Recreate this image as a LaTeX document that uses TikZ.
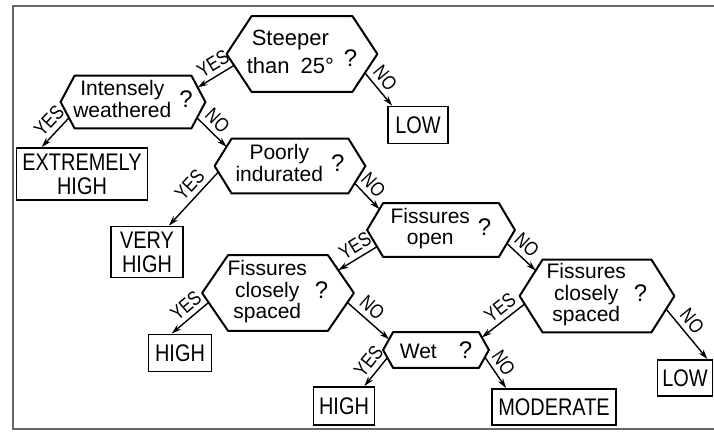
\documentclass[tikz,border=0pt]{standalone}
\usepackage{fontspec}
\setmainfont{Liberation Sans}
\newfontfamily\capsfont{Liberation Sans}[FakeStretch=0.83]
\usepackage{tikz}
\usetikzlibrary{positioning,arrows.meta,calc}

\newcommand{\qtext}[2][4pt]{\begin{tabular}{@{}c@{}}#2\end{tabular}\hspace{#1}{\large ?}}

\begin{document}
\begin{tikzpicture}[
    on grid,
    >={Stealth[length=5pt,width=3pt]},
    qbox/.style={rectangle, inner sep=0pt, font=\fontsize{10.5}{10.5}\selectfont},
    endbox/.style={rectangle, draw, line width=0.9pt, inner sep=0pt, align=center, font=\capsfont\fontsize{12}{12}\selectfont},
    hexline/.style={line width=1pt, line join=round},
    arrow/.style={->, line width=0.7pt},
    answer/.style={sloped, above=1.8pt, pos=0.4, inner sep=0.5pt, font=\capsfont\fontsize{10}{10}\selectfont},
    frameline/.style={line width=0.7pt, draw=black!60}
]
\useasboundingbox (0,0) rectangle (357pt,-216pt);

% Frame
\draw[frameline] (357pt,-3pt) -- (6.5pt,-3pt) -- (6.5pt,-214.5pt) -- (357pt,-214.5pt);

% Questions and outcomes
\node[qbox, minimum width=75pt, minimum height=37.5pt, font=\fontsize{11}{14}\selectfont] (steep) at (151pt,-27pt) {\begin{tabular}{@{}c@{}}Steeper\\than\enspace25°\end{tabular}\hspace{5pt}\raisebox{-3.5pt}{\large ?}};
\node[qbox, minimum width=72pt, minimum height=26pt, below left=24pt and 84.5pt of steep] (weath) {\qtext{Intensely\\weathered}};
\node[endbox, minimum width=30pt, minimum height=18.5pt, below right=35.5pt and 58pt of steep] (lowA) {LOW};
\node[endbox, minimum width=65.5pt, minimum height=26pt, below left=36pt and 25.5pt of weath] (extreme) {EXTREMELY\\HIGH};
\node[qbox, minimum width=75pt, minimum height=27pt, below right=32pt and 78.5pt of weath] (indur) {\qtext{Poorly\\indurated}};
\node[endbox, minimum width=36pt, minimum height=25.5pt, below left=43pt and 71.5pt of indur] (veryhigh) {VERY\\HIGH};
\node[qbox, minimum width=73.5pt, minimum height=26.5pt, below right=32pt and 75.5pt of indur] (open) {\qtext{Fissures\\open}};
\node[qbox, minimum width=75.5pt, minimum height=37.5pt, below left=31.5pt and 81.5pt of open] (spaceL) {\qtext{Fissures\\closely\\spaced}};
\node[qbox, minimum width=77pt, minimum height=36pt, below right=33pt and 78pt of open] (spaceR) {\qtext{Fissures\\closely\\spaced}};
\node[endbox, minimum width=31.5pt, minimum height=18.5pt, below left=30pt and 49pt of spaceL] (highL) {HIGH};
\node[qbox, minimum width=52.5pt, minimum height=17.5pt, below right=28.5pt and 79pt of spaceL] (wet) {Wet\hspace{11pt}{\large ?}};
\node[endbox, minimum width=27.5pt, minimum height=18pt, below right=41pt and 44pt of spaceR] (lowB) {LOW};
\node[endbox, minimum width=30.5pt, minimum height=19pt, below left=28pt and 46pt of wet] (highB) {HIGH};
\node[endbox, minimum width=62pt, minimum height=18pt, below right=28.5pt and 59pt of wet] (moderate) {MODERATE};

% Hexagon outlines
\foreach \n/\s in {steep/12.5pt, weath/7pt, indur/8.5pt, open/8pt, spaceL/13pt, spaceR/11.5pt, wet/5pt}{
  \coordinate (\n-nw) at ([xshift=\s]\n.north west);
  \coordinate (\n-ne) at ([xshift=-\s]\n.north east);
  \coordinate (\n-se) at ([xshift=-\s]\n.south east);
  \coordinate (\n-sw) at ([xshift=\s]\n.south west);
  \draw[hexline] (\n.west) -- (\n-nw) -- (\n-ne) -- (\n.east) -- (\n-se) -- (\n-sw) -- cycle;
}

% Arrows
\draw[arrow] ($(steep.west)!.3!(steep-sw)$) -- node[answer]{YES} ($(weath.east)!.55!(weath-ne)$);
\draw[arrow] ($(steep.east)!.5!(steep-se)$) -- node[answer]{NO} ([xshift=2.5pt]lowA.north west);
\draw[arrow] ($(weath.west)!.6!(weath-sw)$) -- node[answer]{YES} ([xshift=13pt]extreme.north west);
\draw[arrow] ($(weath.east)!.6!(weath-se)$) -- node[answer]{NO} ($(indur.west)!.7!(indur-nw)$);
\draw[arrow] ($(indur.west)!.22!(indur-sw)$) -- node[answer]{YES} ([xshift=-7.5pt]veryhigh.north east);
\draw[arrow] ($(indur.east)!.63!(indur-se)$) -- node[answer]{NO} ($(open.west)!.77!(open-nw)$);
\draw[arrow] ($(open.west)!.62!(open-sw)$) -- node[answer]{YES} ($(spaceL.east)!.6!(spaceL-ne)$);
\draw[arrow] ($(open.east)!.5!(open-se)$) -- node[answer]{NO} ($(spaceR.west)!.7!(spaceR-nw)$);
\draw[arrow] ($(spaceL.west)!.25!(spaceL-sw)$) -- node[answer]{YES} ([xshift=12pt]highL.north west);
\draw[arrow] ($(spaceL.east)!.25!(spaceL-se)$) -- node[answer]{NO} ($(wet.west)!.6!(wet-nw)$);
\draw[arrow] ($(spaceR.west)!.22!(spaceR-sw)$) -- node[answer]{YES} ($(wet.east)!.7!(wet-ne)$);
\draw[arrow] ($(spaceR.east)!.36!(spaceR-se)$) -- node[answer]{NO} ([xshift=-3pt]lowB.north east);
\draw[arrow] ($(wet.west)!.43!(wet-sw)$) -- node[answer]{YES} ([xshift=-5.5pt]highB.north east);
\draw[arrow] ($(wet.east)!.4!(wet-se)$) -- node[answer]{NO} ([xshift=7.5pt]moderate.north west);

\end{tikzpicture}
\end{document}
